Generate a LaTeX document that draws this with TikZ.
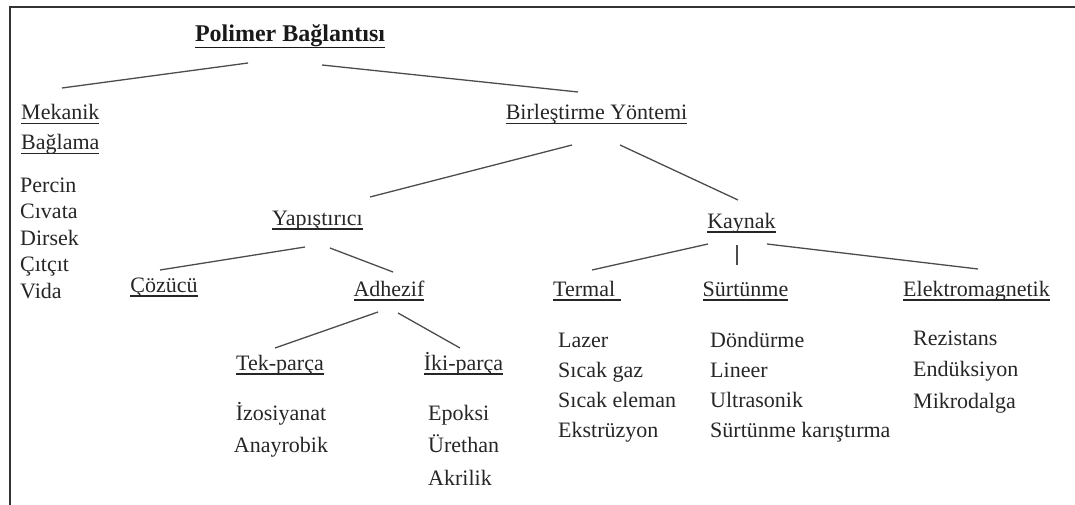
\documentclass[tikz,border=0pt]{standalone}
\usepackage{fontspec}
\setmainfont{Liberation Serif}
\usetikzlibrary{calc}
% underline at a fixed depth, also through descenders
\newcommand\ulin[2][4.5pt]{\setbox0\hbox{#2}\rlap{\rule[-#1]{\wd0}{1.6pt}}\box0}
\tikzset{
  hdr/.style={font=\fontsize{24}{28}\selectfont\bfseries,text=black!90,inner sep=0pt},
  cat/.style={font=\fontsize{22}{30}\selectfont,text=black!85,inner sep=0pt},
  lst/.style={font=\fontsize{22}{#1}\selectfont,text=black!85,inner sep=0pt,align=left},
  ln/.style={draw=black!70,line width=1.3pt},
  frm/.style={draw=black!80,line width=2.5pt},
}
\begin{document}
\begin{tikzpicture}[x=1pt,y=-1pt]
  \useasboundingbox (0,0) rectangle (1075,505);
  \draw[frm] (10,505) -- (10,7) -- (1075,7);
  \node[hdr,anchor=base] (root) at (290,42) {\ulin[6.5pt]{Polimer Bağlantısı}};
  % first level (base of a multi-line node = its last line)
  \node[cat,anchor=base west,align=left] (mek) at (21,150) {\ulin{Mekanik}\\\ulin{Bağlama}};
  \node[lst=26.5,anchor=base west] (mekl) at (20,298) {Percin\\Cıvata\\Dirsek\\Çıtçıt\\Vida};
  \node[cat,anchor=base] (bir) at (596.5,120) {\ulin{Birleştirme Yöntemi}};
  % yapistirici
  \node[cat,anchor=base] (yap) at (317.5,225) {\ulin{Yapıştırıcı}};
  \node[cat,anchor=base] (coz) at (164,292) {\ulin{Çözücü}};
  \node[cat,anchor=base] (adh) at (389,296) {\ulin{Adhezif}};
  \node[cat,anchor=base] (tek) at (280,370) {\ulin{Tek-parça}};
  \node[cat,anchor=base] (iki) at (463.5,370) {\ulin{İki-parça}};
  \node[lst=32,align=center,anchor=base] (tekl) at (281,452) {İzosiyanat\\Anayrobik};
  \node[lst=32.5,anchor=base west] (ikil) at (428,485) {Epoksi\\Ürethan\\Akrilik};
  % kaynak
  \node[cat,anchor=base] (kay) at (741.5,228) {\ulin{Kaynak}};
  \node[cat,anchor=base west] (ter) at (553,296) {\ulin{Termal\ }};
  \node[cat,anchor=base] (sur) at (745.5,296) {\ulin{Sürtünme}};
  \node[cat,anchor=base] (ele) at (976.5,296) {\ulin{Elektromagnetik}};
  \node[lst=29.7,anchor=base west] (terl) at (558,437) {Lazer\\Sıcak gaz\\Sıcak eleman\\Ekstrüzyon};
  \node[lst=29.7,anchor=base west] (surl) at (710,437) {Döndürme\\Lineer\\Ultrasonik\\Sürtünme karıştırma};
  \node[lst=31.5,anchor=base west] (elel) at (913,408) {Rezistans\\Endüksiyon\\Mikrodalga};
  % connectors
  \draw[ln] ($(root.base)+(-42,21)$) -- ($(mek.base west)+(41,-62)$);
  \draw[ln] ($(root.base)+(32,23)$) -- ($(bir.base)+(-18.5,-28)$);
  \draw[ln] ($(bir.base)+(-24.5,25)$) -- ($(yap.base)+(52.5,-28)$);
  \draw[ln] ($(bir.base)+(23.5,25)$) -- ($(kay.base)+(-3.5,-28)$);
  \draw[ln] ($(yap.base)+(-12.5,22)$) -- ($(coz.base)+(-4,-22)$);
  \draw[ln] ($(yap.base)+(12.5,23)$) -- ($(adh.base)+(4,-24)$);
  \draw[ln] ($(adh.base)+(-11,16)$) -- ($(tek.base)+(-5,-22)$);
  \draw[ln] ($(adh.base)+(9,17)$) -- ($(iki.base)+(-3.5,-22)$);
  \draw[ln] ($(kay.base)+(-33.5,16)$) -- ($(ter.base)+(5,-26)$);
  \draw[ln] ($(kay.base)+(-4.5,17)$) -- ($(sur.base)+(-8.5,-31)$);
  \draw[ln] ($(kay.base)+(25.5,16)$) -- ($(ele.base)+(1.5,-27)$);
\end{tikzpicture}
\end{document}
